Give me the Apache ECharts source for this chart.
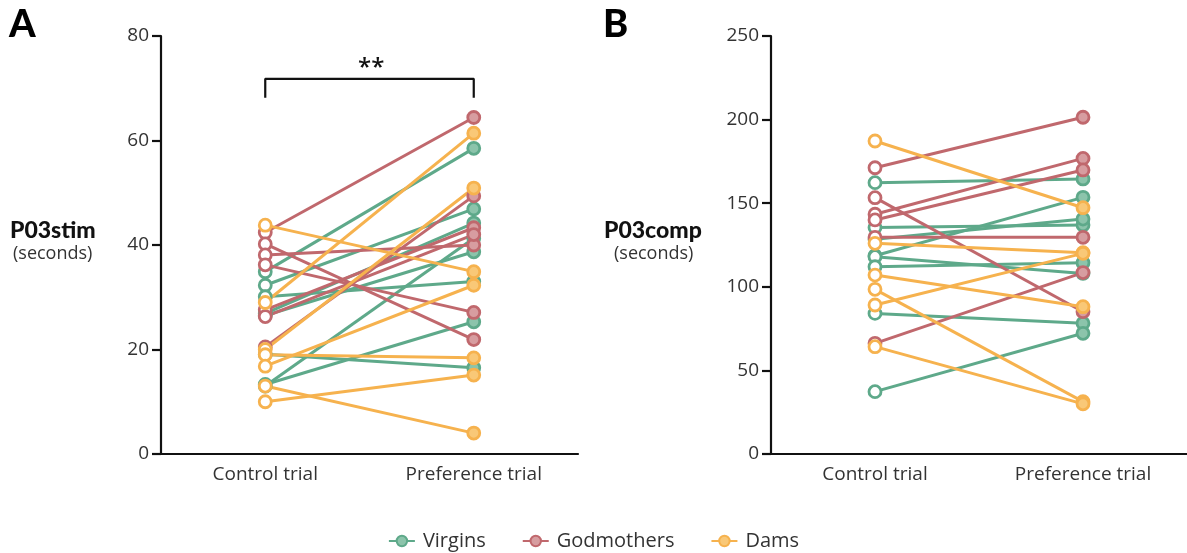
<!DOCTYPE html>
<html style="height: 100%">
<head>
<meta charset="utf-8">
</head>
<body style="height: 100%; margin: 0; background: #fff">
<div id="container" style="width: 1187px; height: 553px"></div>
<script type="text/javascript" src="https://cdn.jsdelivr.net/npm/echarts@6/dist/echarts.min.js"></script>
<script type="text/javascript">
var trials = ['Control trial', 'Preference trial'];

// panel A, P03stim (seconds)
var stimVirginsCtrl = [34.9, 32.3, 30.1, 26.9, 26.5, 19.1, 13.3, 13.0];
var stimVirginsPref = [58.5, 46.9, 33.0, 44.2, 38.7, 16.5, 25.3, 41.3];
var stimGodCtrl = [42.4, 40.2, 38.1, 36.2, 27.6, 26.3, 20.5];
var stimGodPref = [64.4, 21.9, 40.0, 27.1, 43.3, 42.0, 49.4];
var stimDamsCtrl = [43.8, 29.0, 20.0, 19.0, 16.8, 13.0, 10.0];
var stimDamsPref = [34.9, 61.4, 50.9, 18.4, 32.3, 4.0, 15.1];

// panel B, P03comp (seconds)
var compVirginsCtrl = [162.3, 135.4, 128.4, 118.6, 118.0, 112.0, 84.1, 37.3];
var compVirginsPref = [164.5, 137.0, 140.5, 153.5, 108.0, 114.4, 78.2, 72.2];
var compGodCtrl = [171.2, 153.3, 143.4, 140.0, 129.6, 66.2];
var compGodPref = [201.4, 85.1, 176.8, 169.9, 129.6, 108.5];
var compDamsCtrl = [187.2, 126.0, 107.0, 98.5, 89.1, 64.2];
var compDamsPref = [147.3, 120.4, 88.1, 31.3, 120.0, 30.0];

var groups = [
    {name: 'Virgins', line: '#5ea98a', fill: '#8cc4ab'},
    {name: 'Godmothers', line: '#c0686d', fill: '#d79da0'},
    {name: 'Dams', line: '#f6b24e', fill: '#f9c877'}
];

var series = [];
function addPairs(g, ctrl, pref, axis) {
    ctrl.forEach(function (c, i) {
        series.push({
            type: 'line',
            name: g.name,
            xAxisIndex: axis,
            yAxisIndex: axis,
            symbol: 'circle',
            symbolSize: 12,
            lineStyle: {color: g.line, width: 3},
            itemStyle: {color: g.fill, borderColor: g.line, borderWidth: 2.8},
            emphasis: {disabled: true},
            data: [{value: c, itemStyle: {color: '#fff'}}, pref[i]]
        });
    });
}
addPairs(groups[0], stimVirginsCtrl, stimVirginsPref, 0);
addPairs(groups[1], stimGodCtrl, stimGodPref, 0);
addPairs(groups[2], stimDamsCtrl, stimDamsPref, 0);
addPairs(groups[0], compVirginsCtrl, compVirginsPref, 1);
addPairs(groups[1], compGodCtrl, compGodPref, 1);
addPairs(groups[2], compDamsCtrl, compDamsPref, 1);

// significance bracket on panel A
var bracket = [[0, 68.2], [0, 71.8], [1, 71.8], [1, 68.2]];
series.push({
    type: 'line',
    xAxisIndex: 0,
    yAxisIndex: 0,
    symbol: 'none',
    lineStyle: {color: '#111', width: 2.2},
    data: bracket,
    z: 1
});

var axisFont = {fontFamily: 'Open Sans', fontSize: 19, color: '#333'};

function xAxis(idx) {
    return {
        type: 'category',
        gridIndex: idx,
        data: trials,
        boundaryGap: true,
        axisLine: {lineStyle: {color: '#111', width: 2.2}},
        axisTick: {alignWithLabel: true, length: 8, lineStyle: {color: '#111', width: 2.2}},
        axisLabel: Object.assign({margin: 11}, axisFont),
        splitLine: {show: false}
    };
}
function yAxis(idx, max, step) {
    return {
        type: 'value',
        gridIndex: idx,
        min: 0,
        max: max,
        interval: step,
        axisLine: {show: true, lineStyle: {color: '#111', width: 2.2}},
        axisTick: {show: true, length: 9, lineStyle: {color: '#111', width: 2.2}},
        axisLabel: Object.assign({margin: 12}, axisFont),
        splitLine: {show: false}
    };
}

var dom = document.getElementById('container');
var myChart = echarts.init(dom);
var option = {
    animation: false,
    backgroundColor: '#fff',
    grid: [
        {left: 161, top: 36, width: 417, height: 418},
        {left: 771, top: 36, width: 417, height: 418}
    ],
    xAxis: [xAxis(0), xAxis(1)],
    yAxis: [yAxis(0, 80, 20), yAxis(1, 250, 50)],
    legend: {
        data: ['Virgins', 'Godmothers', 'Dams'],
        top: 526,
        left: 'center',
        itemWidth: 26,
        itemHeight: 13,
        itemGap: 36,
        textStyle: {fontFamily: 'Open Sans', fontSize: 20, color: '#333', padding: [0, 0, 0, 3]}
    },
    graphic: [
        {type: 'text', left: 9, top: 6, style: {text: 'A', fontFamily: 'Lato', fontWeight: 900, fontSize: 38, fill: '#000'}},
        {type: 'text', left: 603, top: 6, style: {text: 'B', fontFamily: 'Lato', fontWeight: 900, fontSize: 38, fill: '#000'}},
        {type: 'text', left: 10, top: 219, style: {text: 'P03stim', fontFamily: 'Lato', fontWeight: 900, fontSize: 23, fill: '#111'}},
        {type: 'text', left: 13, top: 245, style: {text: '(seconds)', fontFamily: 'Open Sans', fontSize: 18, fill: '#333'}},
        {type: 'text', left: 604, top: 219, style: {text: 'P03comp', fontFamily: 'Lato', fontWeight: 900, fontSize: 23, fill: '#111'}},
        {type: 'text', left: 614, top: 245, style: {text: '(seconds)', fontFamily: 'Open Sans', fontSize: 18, fill: '#333'}},
        {type: 'text', left: 358, top: 56, style: {text: '**', fontFamily: 'Open Sans', fontWeight: 600, fontSize: 24, fill: '#111'}}
    ],
    series: series
};
myChart.setOption(option);
</script>
</body>
</html>
